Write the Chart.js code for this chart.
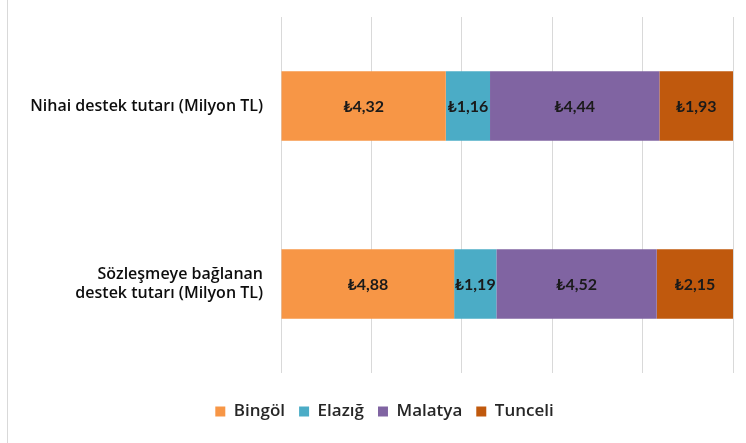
<!DOCTYPE html>
<html>
<head>
<meta charset="utf-8">
<script src="https://cdn.jsdelivr.net/npm/chart.js@4"></script>
<style>
  html, body { margin: 0; padding: 0; background: #fff; }
  #wrap { width: 746px; height: 443px; position: relative; }
</style>
</head>
<body>
<div id="wrap"><canvas id="grafico" width="746" height="443"></canvas></div>
<script>
// Dados do gráfico
const categorias = ['Nihai destek tutarı (Milyon TL)', ['Sözleşmeye bağlanan', 'destek tutarı (Milyon TL)']];
const bingol = [4.32, 4.88];
const elazig = [1.16, 1.19];
const malatya = [4.44, 4.52];
const tunceli = [1.93, 2.15];
const eixoTicks = [0, 20, 40, 60, 80, 100];

const series = [
    { nome: 'Bingöl', valores: bingol, cor: '#F79646' },
    { nome: 'Elazığ', valores: elazig, cor: '#4BACC6' },
    { nome: 'Malatya', valores: malatya, cor: '#8064A2' },
    { nome: 'Tunceli', valores: tunceli, cor: '#C0590D' }
];

// total de cada barra (gráfico 100% empilhado)
const totais = categorias.map((_, i) => series.reduce((s, serie) => s + serie.valores[i], 0));

const fonte = "'Open Sans', 'Noto Sans', 'DejaVu Sans', sans-serif";
const fonteRotulo = "Lato, 'Noto Sans', 'DejaVu Sans', sans-serif";

// Plugin: fundo branco e borda esquerda
const fundoPlugin = {
    id: 'fundo',
    beforeDraw(chart) {
        const ctx = chart.ctx;
        ctx.save();
        ctx.fillStyle = '#fff';
        ctx.fillRect(0, 0, chart.width, chart.height);
        ctx.fillStyle = '#d9d9d9';
        ctx.fillRect(7, 0, 1, chart.height);
        ctx.restore();
    }
};

// Plugin: desloca a legenda um pouco para a direita
const legendaPlugin = {
    id: 'legendaDesloc',
    afterLayout(chart) {
        if (chart.legend) {
            chart.legend.left += 18;
            chart.legend.right += 18;
        }
    }
};

// Plugin: rótulos dentro das barras
const rotulosPlugin = {
    id: 'rotulos',
    afterDatasetsDraw(chart) {
        const ctx = chart.ctx;
        ctx.save();
        ctx.font = 'bold 16px ' + fonteRotulo;
        ctx.fillStyle = '#1a1a1a';
        ctx.textAlign = 'center';
        ctx.textBaseline = 'middle';
        chart.data.datasets.forEach((ds, di) => {
            const meta = chart.getDatasetMeta(di);
            meta.data.forEach((bar, i) => {
                const valor = ds.valoresOriginais[i];
                const texto = '₺' + valor.toFixed(2).replace('.', ',');
                const cx = (bar.x + bar.base) / 2;
                ctx.fillText(texto, cx, bar.y + 1);
            });
        });
        ctx.restore();
    }
};

const ctx = document.getElementById('grafico').getContext('2d');

new Chart(ctx, {
    type: 'bar',
    data: {
        labels: categorias,
        datasets: series.map(serie => ({
            label: serie.nome,
            data: serie.valores.map((v, i) => v / totais[i] * 100),
            valoresOriginais: serie.valores,
            backgroundColor: serie.cor,
            borderWidth: 0,
            barPercentage: 0.39,
            categoryPercentage: 1
        }))
    },
    options: {
        indexAxis: 'y',
        responsive: false,
        animation: false,
        layout: {
            padding: { left: 0, right: 13, top: 17, bottom: 13 }
        },
        plugins: {
            legend: {
                position: 'bottom',
                labels: {
                    boxWidth: 10,
                    boxHeight: 10,
                    padding: 14,
                    color: '#262626',
                    font: { family: fonte, size: 17, weight: '600' }
                }
            },
            tooltip: { enabled: false }
        },
        scales: {
            x: {
                stacked: true,
                min: 0,
                max: 100,
                afterBuildTicks(axis) {
                    axis.ticks = eixoTicks.map(v => ({ value: v }));
                },
                afterFit(axis) {
                    axis.height = 16;
                },
                ticks: { display: false },
                border: { display: false },
                grid: {
                    color: '#d9d9d9',
                    lineWidth: 1,
                    drawTicks: false
                }
            },
            y: {
                stacked: true,
                afterFit(axis) {
                    axis.width = 281;
                    axis.paddingTop = 0;
                    axis.paddingBottom = 0;
                },
                border: { display: false },
                grid: { display: false, drawTicks: false },
                ticks: {
                    padding: 18,
                    color: '#0d0d0d',
                    font: { family: fonte, size: 16, weight: '600' }
                }
            }
        }
    },
    plugins: [fundoPlugin, legendaPlugin, rotulosPlugin]
});
</script>
</body>
</html>
